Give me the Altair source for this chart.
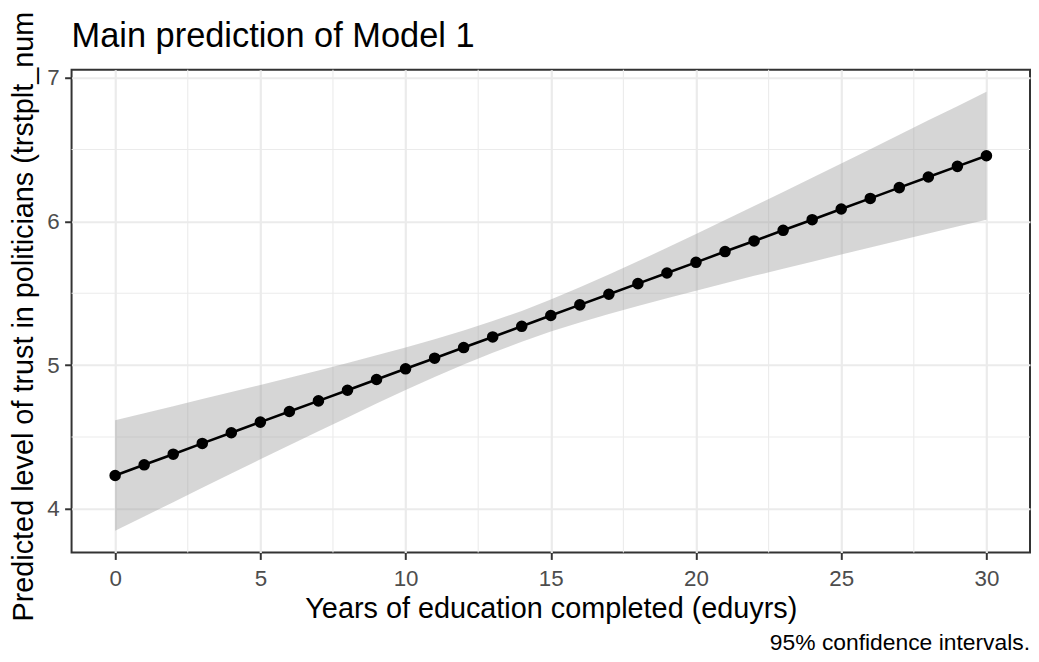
import altair as alt
import pandas as pd

# ---- data ----
eduyrs = [0, 1, 2, 3, 4, 5, 6, 7, 8, 9, 10, 11, 12, 13, 14, 15,
          16, 17, 18, 19, 20, 21, 22, 23, 24, 25, 26, 27, 28, 29, 30]
predicted = [4.232, 4.306, 4.380, 4.455, 4.529, 4.603, 4.677, 4.751, 4.825, 4.900,
             4.974, 5.048, 5.122, 5.196, 5.270, 5.345, 5.419, 5.493, 5.567, 5.641,
             5.715, 5.790, 5.864, 5.938, 6.012, 6.086, 6.160, 6.235, 6.309, 6.383, 6.457]
ci_lower = [3.847, 3.947, 4.046, 4.146, 4.245, 4.344, 4.442, 4.539, 4.636, 4.732,
            4.826, 4.917, 5.004, 5.086, 5.163, 5.233, 5.297, 5.356, 5.412, 5.466,
            5.518, 5.570, 5.621, 5.671, 5.720, 5.769, 5.818, 5.867, 5.915, 5.964, 6.012]
ci_upper = [4.617, 4.665, 4.714, 4.764, 4.813, 4.862, 4.912, 4.963, 5.014, 5.068,
            5.122, 5.179, 5.240, 5.306, 5.377, 5.457, 5.541, 5.630, 5.722, 5.816,
            5.912, 6.010, 6.107, 6.205, 6.304, 6.403, 6.502, 6.603, 6.703, 6.802, 6.902]

x_ticks = [0, 5, 10, 15, 20, 25, 30]
y_ticks = [4, 5, 6, 7]
x_minor = [2.5, 7.5, 12.5, 17.5, 22.5, 27.5]
y_minor = [4.5, 5.5, 6.5]

title_text = ["Main prediction of Model 1"]
x_title = "Years of education completed (eduyrs)"
y_title = "Predicted level of trust in politicians (trstplt_num"
caption = ["95% confidence intervals."]

FONT = "Liberation Sans"

df = pd.DataFrame({"eduyrs": eduyrs, "pred": predicted, "lo": ci_lower, "hi": ci_upper})
xminor_df = pd.DataFrame({"v": x_minor})
yminor_df = pd.DataFrame({"v": y_minor})
cap_df = pd.DataFrame({"caption": caption})
title_df = pd.DataFrame({"title": title_text})

xscale = alt.Scale(domain=[-1.5, 31.5], nice=False, zero=False)
yscale = alt.Scale(domain=[3.696, 7.055], nice=False, zero=False)

xaxis = alt.Axis(values=x_ticks, title=x_title, labelBaseline="alphabetic",
                 labelPadding=26, titleY=65, titleBaseline="alphabetic")
yaxis = alt.Axis(values=y_ticks, title=y_title, labelPadding=5.5,
                 titleAngle=270, titleAlign="left", titleBaseline="alphabetic",
                 titleX=-39, titleY=555)


def X(field):
    return alt.X(field, type="quantitative", scale=xscale, axis=xaxis)


def Y(field):
    return alt.Y(field, type="quantitative", scale=yscale, axis=yaxis)


minor_x = alt.Chart(xminor_df).mark_rule(color="#EBEBEB", strokeWidth=1.1).encode(
    x=X("v"))
minor_y = alt.Chart(yminor_df).mark_rule(color="#EBEBEB", strokeWidth=1.1).encode(
    y=Y("v"))

band = alt.Chart(df).mark_area(color="#999999", opacity=0.4).encode(
    x=X("eduyrs"), y=Y("lo"), y2="hi")
line = alt.Chart(df).mark_line(color="black", strokeWidth=2.6).encode(
    x=X("eduyrs"), y=Y("pred"))
points = alt.Chart(df).mark_circle(color="black", opacity=1, size=135).encode(
    x=X("eduyrs"), y=Y("pred"))

cap = alt.Chart(cap_df).mark_text(align="right", baseline="alphabetic",
                                  fontSize=23, font=FONT, color="black").encode(
    x=alt.value(965), y=alt.value(584), text="caption:N")

ttl = alt.Chart(title_df).mark_text(align="left", baseline="alphabetic",
                                    fontSize=34.6, font=FONT, color="black").encode(
    x=alt.value(0), y=alt.value(-23), text="title:N")

chart = alt.layer(minor_x, minor_y, band, line, points, cap, ttl).properties(
    width=965, height=486,
    autosize=alt.AutoSizeParams(type="none"),
    padding={"left": 64, "top": 60, "right": 1, "bottom": 100},
).configure_view(
    stroke="#333333", strokeWidth=2
).configure_axis(
    labelFont=FONT, titleFont=FONT, labelFontSize=22.5, labelColor="#4D4D4D",
    titleFontSize=29, titleColor="black", titleFontWeight="normal",
    tickColor="#333333", tickWidth=2, tickSize=7, domain=False,
    grid=True, gridColor="#EBEBEB", gridWidth=2.2
)

chart.save("out.html", embed_options={"renderer": "svg", "actions": False})
